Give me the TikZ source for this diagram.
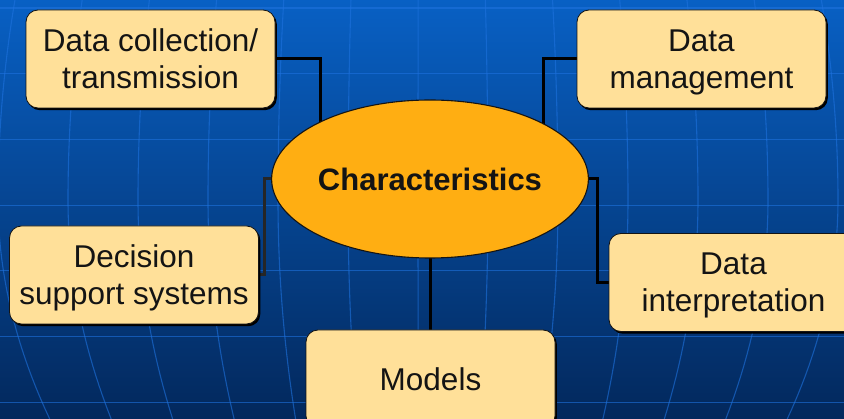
\documentclass[tikz,border=0pt]{standalone}
\usepackage{fontspec}
\setmainfont{Liberation Sans}
\usetikzlibrary{shapes.geometric,shadows}

\definecolor{bgtop}{RGB}{8,96,196}
\definecolor{bgmid}{RGB}{2,70,146}
\definecolor{bgbot}{RGB}{3,40,92}
\definecolor{gridblue}{RGB}{30,114,222}
\definecolor{boxfill}{RGB}{255,224,153}
\definecolor{ellfill}{RGB}{255,174,18}
\definecolor{inkdark}{RGB}{20,20,20}

\pgfdeclarelayer{backdrop}
\pgfdeclarelayer{wires}
\pgfsetlayers{backdrop,wires,main}

\tikzset{
  topicbox/.style={
    rectangle, rounded corners=12pt, draw=inkdark, line width=0.8pt,
    fill=boxfill, minimum width=249pt, minimum height=98pt,
    align=center, text=inkdark, inner sep=0pt, text depth=0pt,
    font=\fontsize{31.5}{37}\selectfont,
    general shadow={fill=black, shadow xshift=1.8pt, shadow yshift=-2.2pt}
  },
  hub/.style={
    ellipse, draw=inkdark, line width=1.1pt, fill=ellfill,
    minimum width=314pt, minimum height=158pt, inner sep=0pt,
    text=inkdark, font=\bfseries\fontsize{31}{37}\selectfont
  },
  wire/.style={draw=black, line width=3pt},
  gridline/.style={draw=gridblue, line width=1.1pt, opacity=0.6}
}

\begin{document}
\begin{tikzpicture}[x=1pt, y=-1pt]
  \useasboundingbox (0,0) rectangle (844,419);
  \clip (0,0) rectangle (844,419);

  % nodes
  \node[hub] (hub) at (430,179) {Characteristics};
  \node[topicbox] (collect) at (150.5,59) {Data collection/\\transmission};
  \node[topicbox] (manage) at (701.5,59) {Data\\management};
  \node[topicbox] (dss) at (134,275) {Decision\\support systems};
  \node[topicbox] (interp) at (733.5,282.5) {Data\\interpretation};
  \node[topicbox] (models) at (430.5,379) {Models};

  % background gradient and globe grid
  \begin{pgfonlayer}{backdrop}
    \shade[top color=bgtop, middle color=bgmid, bottom color=bgbot]
      (0,0) rectangle (844,419);
    \foreach \k in {0,...,6}
      \draw[gridline] (0,{8+65.7*\k}) -- (844,{8+65.7*\k});
    \foreach \k in {0,...,12}{
      \pgfmathsetmacro{\xo}{-2+70*\k}
      \draw[gridline] plot[domain=0:419, samples=40, variable=\t]
        ({422+(\xo-422)*(1-(\t<200 ? ((\t-200)/1000)^2 : ((\t-200)/627)^2))}, \t);
    }
  \end{pgfonlayer}

  % connectors
  \begin{pgfonlayer}{wires}
    \draw[wire] (collect.east) -| ([xshift=-110pt]hub.center);
    \draw[wire] (manage.west) -| ([xshift=113pt]hub.center);
    \draw[wire, draw=black!85] (dss.east) -- ++(6,0) |- (hub.center);
    \draw[wire] (interp.west) -- ++(-11,0) |- (hub.center);
    \draw[wire] (hub.center) -- (hub.center |- models.north);
  \end{pgfonlayer}
\end{tikzpicture}
\end{document}
